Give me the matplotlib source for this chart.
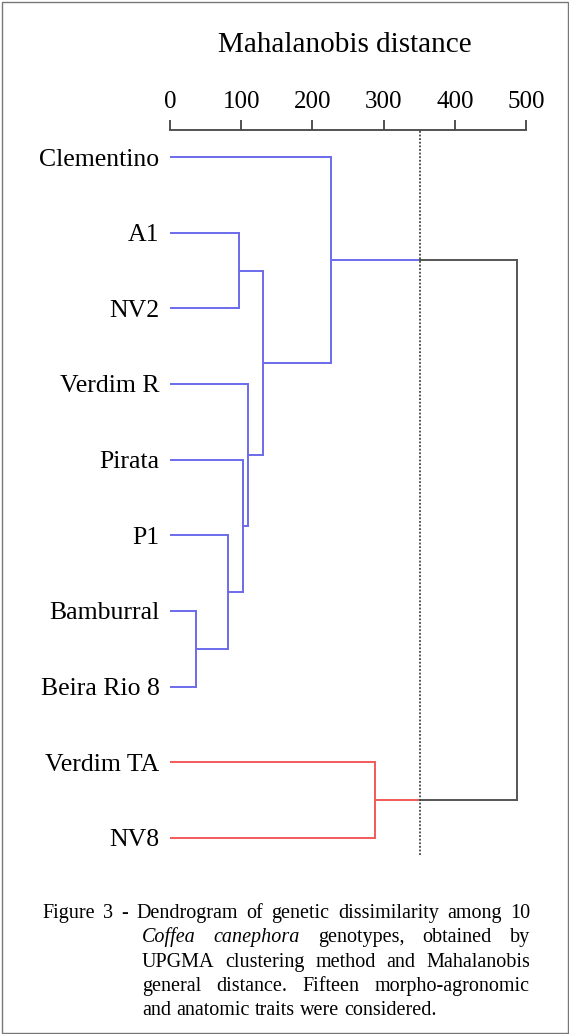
import matplotlib
matplotlib.use("Agg")
import matplotlib.pyplot as plt
from matplotlib.patches import Rectangle

# ---------------- data ----------------
labels = ["Clementino", "A1", "NV2", "Verdim R", "Pirata", "P1",
          "Bamburral", "Beira Rio 8", "Verdim TA", "NV8"]
# merges (scipy-like numbering: new node = n_leaves + merge index)
merge_left = [6, 5, 4, 3, 1, 14, 0, 8, 16]
merge_right = [7, 10, 11, 12, 2, 13, 15, 9, 17]
merge_height = [36, 82, 103, 110, 97, 130, 226, 288, 488]
cut_height = 351
tick_values = [0, 100, 200, 300, 400, 500]
group_roots = [16, 17]
group_colors = ["#6b6bec", "#f25a5a"]
above_color = "#555555"

caption_lines = [
    "Figure 3 - Dendrogram of genetic dissimilarity among 10",
    "Coffea canephora genotypes, obtained by",
    "UPGMA clustering method and Mahalanobis",
    "general distance. Fifteen morpho-agronomic",
    "and anatomic traits were considered.",
]
italic_words = {"Coffea", "canephora"}

# ---------------- figure ----------------
plt.rcParams["font.family"] = ["Liberation Serif", "DejaVu Serif"]
W, H = 569, 1034
fig = plt.figure(figsize=(W / 100, H / 100), dpi=100)
fig.patch.set_facecolor("white")

ax = fig.add_axes([170 / W, 1 - 855 / H, 356 / W, 725 / H])
n = len(labels)
ax.set_xlim(0, 500)
ax.set_ylim(9.225, -0.357)

ypos = {i: float(i) for i in range(n)}
hgt = {i: 0.0 for i in range(n)}
children = {}
for k, (l, r, h) in enumerate(zip(merge_left, merge_right, merge_height)):
    node = n + k
    children[node] = (l, r)
    ypos[node] = (ypos[l] + ypos[r]) / 2
    hgt[node] = h


def descendants(node):
    out = {node}
    if node in children:
        for c in children[node]:
            out |= descendants(c)
    return out


color = {node: above_color for node in ypos}
for root, col in zip(group_roots, group_colors):
    for d in descendants(root):
        color[d] = col

lw = 1.4
for k in range(len(merge_height)):
    node = n + k
    h = hgt[node]
    l, r = children[node]
    nc = color[node]
    for c in (l, r):
        cc = color[c]
        if nc != above_color or cc == above_color:
            ax.plot([hgt[c], h], [ypos[c], ypos[c]], color=nc if nc != above_color else cc,
                    lw=lw, solid_capstyle="projecting")
        else:
            ax.plot([hgt[c], cut_height], [ypos[c], ypos[c]], color=cc, lw=lw,
                    solid_capstyle="projecting")
            ax.plot([cut_height, h], [ypos[c], ypos[c]], color=above_color, lw=lw,
                    solid_capstyle="projecting")
    ax.plot([h, h], [ypos[l], ypos[r]], color=nc, lw=lw, solid_capstyle="projecting")

ax.axvline(cut_height, color="#444444", ls=(0, (1, 1)), lw=1.3)

for s in ("bottom", "left", "right"):
    ax.spines[s].set_visible(False)
ax.spines["top"].set_color("#444444")
ax.spines["top"].set_linewidth(1.3)
ax.xaxis.tick_top()
ax.set_xticks(tick_values)
ax.set_xticklabels([str(v) for v in tick_values])
ax.tick_params(axis="x", top=True, bottom=False, labeltop=True, labelbottom=False,
               direction="out", length=7, width=1.3, color="#444444", pad=5,
               labelsize=18)
ax.set_yticks(range(n))
ax.set_yticklabels(labels)
ax.tick_params(axis="y", left=False, pad=4, labelsize=18.5)
ax.set_facecolor("none")

fig.text(345 / W, 1 - 45 / H, "Mahalanobis distance", ha="center", va="center",
         fontsize=21)

# ---------------- caption (justified) ----------------
renderer = fig.canvas.get_renderer()
cap_fs = 14.5
space_px = 0.25 * cap_fs * 100 / 72
for i, line in enumerate(caption_lines):
    words = line.split()
    x0 = 42 if i == 0 else 142
    x1 = 530
    yb = H - (918 + 24.3 * i)
    texts = []
    for w in words:
        t = fig.text(0, yb / H, w, fontsize=cap_fs, va="baseline", ha="left",
                     style="italic" if w in italic_words else "normal")
        texts.append(t)
    widths = [t.get_window_extent(renderer).width for t in texts]
    if i < len(caption_lines) - 1 and len(words) > 1:
        gap = (x1 - x0 - sum(widths)) / (len(words) - 1)
    else:
        gap = space_px
    x = x0
    for t, wd in zip(texts, widths):
        t.set_x(x / W)
        x += wd + gap

fig.patches.append(Rectangle((1.5 / W, 1.5 / H), (W - 3) / W, (H - 3) / H,
                             transform=fig.transFigure, fill=False,
                             edgecolor="#777777", lw=1.0))

fig.savefig("out.png", dpi=100)
